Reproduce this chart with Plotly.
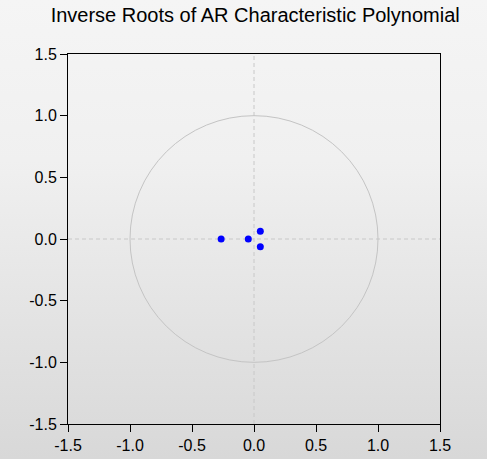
import base64
import plotly.graph_objects as go

# Inverse roots (real, imaginary)
root_real = [-0.265, -0.046, 0.051, 0.051]
root_imag = [0.0, 0.0, 0.063, -0.063]

tick_vals = [-1.5, -1.0, -0.5, 0.0, 0.5, 1.0, 1.5]
tick_text = ["-1.5", "-1.0", "-0.5", "0.0", "0.5", "1.0", "1.5"]

svg = (
    '<svg xmlns="http://www.w3.org/2000/svg" width="487" height="459" preserveAspectRatio="none">'
    '<defs><linearGradient id="g" x1="0" y1="0" x2="0" y2="1">'
    '<stop offset="0" stop-color="#f5f5f5"/><stop offset="0.35" stop-color="#f0f0f0"/>'
    '<stop offset="1" stop-color="#d8d8d8"/></linearGradient></defs>'
    '<rect width="487" height="459" fill="url(#g)"/></svg>'
)
bg_src = "data:image/svg+xml;base64," + base64.b64encode(svg.encode()).decode()

fig = go.Figure()
fig.add_trace(go.Scatter(
    x=root_real, y=root_imag, mode="markers",
    marker=dict(color="#0000ff", size=7, line=dict(width=0)),
    hoverinfo="x+y", showlegend=False,
))

fig.add_shape(type="circle", xref="x", yref="y", x0=-1, y0=-1, x1=1, y1=1,
              line=dict(color="#c4c4c4", width=1), layer="below")
fig.add_shape(type="line", xref="x", yref="paper", x0=0, x1=0, y0=0, y1=1,
              line=dict(color="#c8c8c8", width=1, dash="4px,3px"), layer="below")
fig.add_shape(type="line", xref="paper", yref="y", x0=0, x1=1, y0=0, y1=0,
              line=dict(color="#c8c8c8", width=1, dash="4px,3px"), layer="below")

axis_common = dict(
    range=[-1.5, 1.5], tickvals=tick_vals, ticktext=tick_text,
    showgrid=False, zeroline=False, showline=True, linecolor="black",
    linewidth=1, mirror=True, ticks="outside", ticklen=7, tickcolor="black",
    automargin=False,
    tickfont=dict(family="Liberation Sans, Arial, sans-serif", size=16, color="black"),
)

fig.update_layout(
    width=487, height=459,
    margin=dict(l=68, r=47, t=54, b=35),
    paper_bgcolor="#e8e8e8", plot_bgcolor="white",
    title=dict(text="Inverse Roots of AR Characteristic Polynomial",
               x=0.524, xanchor="center", y=0.967, yanchor="middle",
               font=dict(family="Liberation Sans, Arial, sans-serif", size=20, color="black")),
    xaxis=axis_common, yaxis=axis_common,
    images=[dict(source=bg_src, xref="paper", yref="paper", x=-68/372, y=1 + 54/370,
                 sizex=487/372, sizey=459/370, sizing="stretch", xanchor="left",
                 yanchor="top", layer="below")],
)

fig.write_html(
    "out.html",
    config={"displayModeBar": False},
    post_script="document.body.style.margin='0';document.body.style.overflow='hidden';",
)
